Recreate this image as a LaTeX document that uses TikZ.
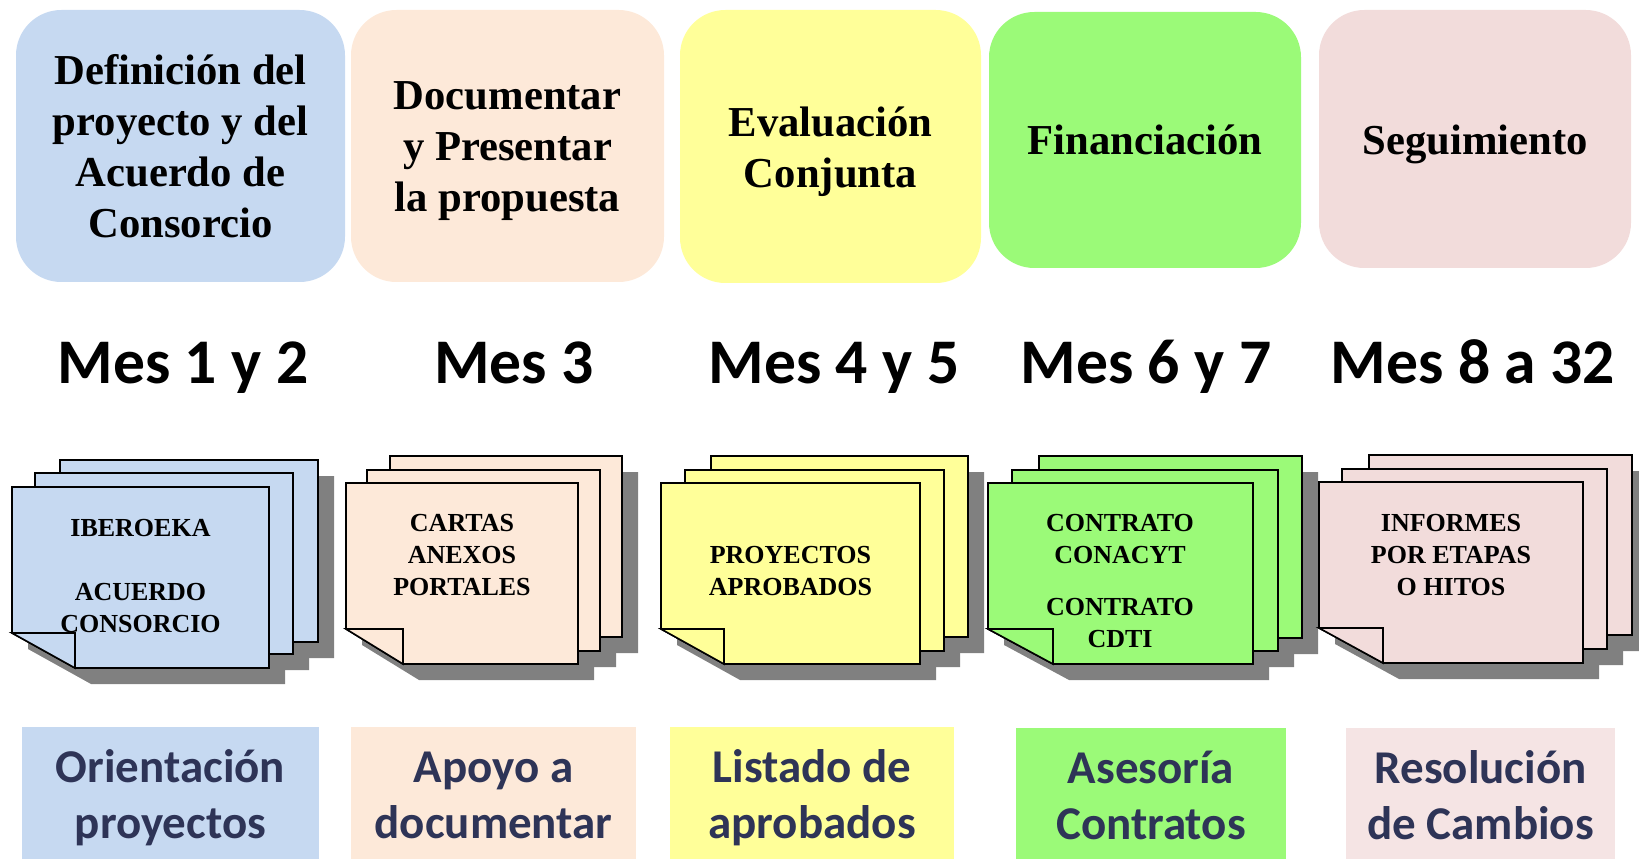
\documentclass[tikz,border=0pt]{standalone}
\usepackage{fontspec}
\usepackage{tikz}
\usepackage{xcolor}
\setmainfont{Liberation Serif}
\newfontfamily\carlito{Carlito}
\definecolor{phblue}{HTML}{C6D9F1}
\definecolor{phpeach}{HTML}{FDE9D9}
\definecolor{phyellow}{HTML}{FFFF99}
\definecolor{phgreen}{HTML}{9BFA78}
\definecolor{phpink}{HTML}{F2DCDB}
\definecolor{lblpink}{HTML}{F5E4E4}
\definecolor{lbltext}{HTML}{2E3457}
\definecolor{pgshadow}{HTML}{808080}
\tikzset{every picture/.style={line width=0.75pt},
  phase/.style={rounded corners=34pt, inner sep=0pt, align=flush center, text height=45pt, font=\fontsize{32}{38.25}\selectfont\bfseries},
  month/.style={anchor=base, inner sep=0pt, font=\carlito\fontsize{47.7}{50}\selectfont\bfseries},
  page/.style={draw=black, line width=1.2pt},
  pageshadow/.style={fill=pgshadow},
  doctext/.style={anchor=base, inner sep=0pt, text width=180pt, align=flush center, font=\fontsize{19.5}{24}\selectfont\bfseries},
  service/.style={anchor=base, inner sep=0pt, align=flush center, text height=41.25pt, text depth=73.5pt, text=lbltext, font=\carlito\fontsize{35.25}{42}\selectfont\bfseries}
}

\begin{document}
\begin{tikzpicture}[x=0.75pt,y=0.75pt,yscale=-1,xscale=1]
\useasboundingbox (0,0) rectangle (1639,859);

% Phase boxes
\node [phase, fill=phblue, text width=246.75pt, minimum height=204pt, text depth=136.5pt] (defin) at (180.5,146) {Definición del\\proyecto y del\\Acuerdo de\\Consorcio};
\node [phase, fill=phpeach, text width=234.75pt, minimum height=204pt, text depth=99pt] (docum) at (507.5,146) {Documentar\\y Presentar\\la propuesta};
\node [phase, fill=phyellow, text width=225.75pt, minimum height=204.75pt, text depth=59.25pt] (evalu) at (830.5,146.5) {Evaluación\\Conjunta};
\node [phase, fill=phgreen, text width=234pt, minimum height=192pt, text depth=22.5pt] (finan) at (1145,140) {Financiación};
\node [phase, fill=phpink, text width=234pt, minimum height=193.5pt, text depth=21pt] (segui) at (1475,139) {Seguimiento};

% Text Node
\node [month] (mes1) at (183,383) {Mes 1 y 2};
% Text Node
\node [month] (mes2) at (514,383) {Mes 3};
% Text Node
\node [month] (mes3) at (834,383) {Mes 4 y 5};
% Text Node
\node [month] (mes4) at (1146,383) {Mes 6 y 7};
% Text Node
\node [month] (mes5) at (1473,383) {Mes 8 a 32};

%Shape: Shadows of first stack
\fill [pageshadow] (76,623) -- (76,476) -- (334,476) -- (334,658) -- (139,658) -- cycle;
\fill [pageshadow] (51,635) -- (51,489) -- (309,489) -- (309,670) -- (114,670) -- cycle;
\fill [pageshadow] (28,649) -- (28,503) -- (285,503) -- (285,684) -- (91,684) -- cycle;
%Shape: Pages of first stack
\draw [page, fill=phblue] (60,607) -- (60,460) -- (318,460) -- (318,642) -- (123,642) -- cycle;
\draw [page, fill=phblue] (35,619) -- (35,473) -- (293,473) -- (293,654) -- (98,654) -- cycle;
\draw [page, fill=phblue] (12,633) -- (12,487) -- (269,487) -- (269,668) -- (75,668) -- cycle;
\draw [page, fill=phblue] (12,633) -- (75,633) -- (75,668) -- cycle;

%Shape: Shadows of second stack
\fill [pageshadow] (406,618) -- (406,472) -- (638,472) -- (638,653) -- (463,653) -- cycle;
\fill [pageshadow] (383,632) -- (383,486) -- (616,486) -- (616,667) -- (440,667) -- cycle;
\fill [pageshadow] (362,645) -- (362,499) -- (594,499) -- (594,680) -- (419,680) -- cycle;
%Shape: Pages of second stack
\draw [page, fill=phpeach] (390,602) -- (390,456) -- (622,456) -- (622,637) -- (447,637) -- cycle;
\draw [page, fill=phpeach] (367,616) -- (367,470) -- (600,470) -- (600,651) -- (424,651) -- cycle;
\draw [page, fill=phpeach] (346,629) -- (346,483) -- (578,483) -- (578,664) -- (403,664) -- cycle;
\draw [page, fill=phpeach] (346,629) -- (403,629) -- (403,664) -- cycle;

%Shape: Shadows of third stack
\fill [pageshadow] (727,618) -- (727,472) -- (984,472) -- (984,653) -- (790,653) -- cycle;
\fill [pageshadow] (701,632) -- (701,486) -- (960,486) -- (960,667) -- (764,667) -- cycle;
\fill [pageshadow] (677,645) -- (677,499) -- (936,499) -- (936,680) -- (740,680) -- cycle;
%Shape: Pages of third stack
\draw [page, fill=phyellow] (711,602) -- (711,456) -- (968,456) -- (968,637) -- (774,637) -- cycle;
\draw [page, fill=phyellow] (685,616) -- (685,470) -- (944,470) -- (944,651) -- (748,651) -- cycle;
\draw [page, fill=phyellow] (661,629) -- (661,483) -- (920,483) -- (920,664) -- (724,664) -- cycle;
\draw [page, fill=phyellow] (661,629) -- (724,629) -- (724,664) -- cycle;

%Shape: Shadows of fourth stack
\fill [pageshadow] (1055,619) -- (1055,472) -- (1318,472) -- (1318,654) -- (1120,654) -- cycle;
\fill [pageshadow] (1028,632) -- (1028,486) -- (1294,486) -- (1294,667) -- (1093,667) -- cycle;
\fill [pageshadow] (1004,645) -- (1004,499) -- (1269,499) -- (1269,680) -- (1069,680) -- cycle;
%Shape: Pages of fourth stack
\draw [page, fill=phgreen] (1039,603) -- (1039,456) -- (1302,456) -- (1302,638) -- (1104,638) -- cycle;
\draw [page, fill=phgreen] (1012,616) -- (1012,470) -- (1278,470) -- (1278,651) -- (1077,651) -- cycle;
\draw [page, fill=phgreen] (988,629) -- (988,483) -- (1253,483) -- (1253,664) -- (1053,664) -- cycle;
\draw [page, fill=phgreen] (988,629) -- (1053,629) -- (1053,664) -- cycle;

%Shape: Shadows of fifth stack
\fill [pageshadow] (1385,616) -- (1385,471) -- (1648,471) -- (1648,651) -- (1449,651) -- cycle;
\fill [pageshadow] (1358,630) -- (1358,485) -- (1623,485) -- (1623,665) -- (1422,665) -- cycle;
\fill [pageshadow] (1335,644) -- (1335,498) -- (1599,498) -- (1599,679) -- (1399,679) -- cycle;
%Shape: Pages of fifth stack
\draw [page, fill=phpink] (1369,600) -- (1369,455) -- (1632,455) -- (1632,635) -- (1433,635) -- cycle;
\draw [page, fill=phpink] (1342,614) -- (1342,469) -- (1607,469) -- (1607,649) -- (1406,649) -- cycle;
\draw [page, fill=phpink] (1319,628) -- (1319,482) -- (1583,482) -- (1583,663) -- (1383,663) -- cycle;
\draw [page, fill=phpink] (1319,628) -- (1383,628) -- (1383,663) -- cycle;

% Text Node
\node [doctext] (iberoeka) at (140.5,536.5) {IBEROEKA\\[24pt]ACUERDO\\CONSORCIO};
% Text Node
\node [doctext] (cartas) at (462,531.5) {CARTAS\\ANEXOS\\PORTALES};
% Text Node
\node [doctext] (aprobados) at (790.5,563.5) {PROYECTOS\\APROBADOS};
% Text Node
\node [doctext] (contratos) at (1120,531.5) {CONTRATO\\CONACYT\\[15pt]CONTRATO\\CDTI};
% Text Node
\node [doctext] (informes) at (1451,531.5) {INFORMES\\POR ETAPAS\\O HITOS};

% Service labels
\node [service, fill=phblue, text width=222.75pt] (orient) at (170.5,782) {Orientación\\proyectos};
\node [service, fill=phpeach, text width=213.75pt] (apoyo) at (493.5,782) {Apoyo a\\documentar};
\node [service, fill=phyellow, text width=213pt] (listado) at (812,782) {Listado de\\aprobados};
\node [service, fill=phgreen, text width=202.5pt] (asesoria) at (1151,783) {Asesoría\\Contratos};
\node [service, fill=lblpink, text width=201.75pt] (resol) at (1480.5,783) {Resolución\\de Cambios};

\end{tikzpicture}
\end{document}
